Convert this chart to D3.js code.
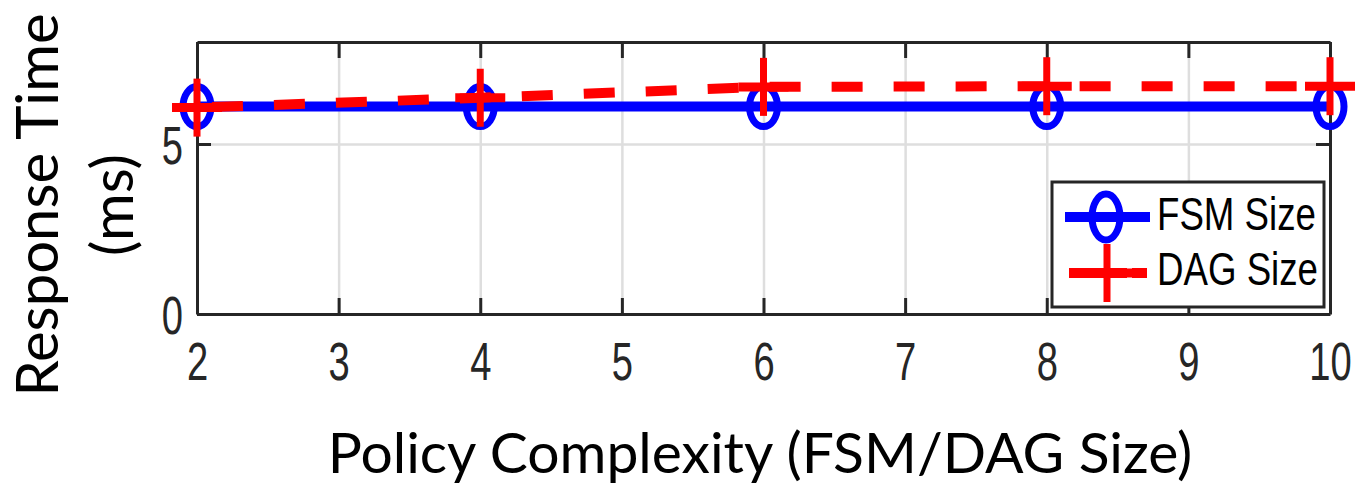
<!DOCTYPE html>
<html>
<head>
  <title>Response Time vs Policy Complexity</title>
  <script src="https://d3js.org/d3.v7.min.js"></script>
</head>
<body style="margin:0; background:#fff;">
  <style>
    #chart {
      display: block;
    }
    .tick-label {
      font-family: "Liberation Sans", Arial, sans-serif;
      fill: #262626;
    }
    .axis-title {
      font-family: Lato, Calibri, "Open Sans", sans-serif;
      fill: #000;
    }
  </style>

  <svg id="chart"></svg>

  <script>
    // data
    var sizes = [2, 4, 6, 8, 10];
    var fsmTime = [6.1, 6.1, 6.1, 6.1, 6.1];
    var dagTime = [6.07, 6.36, 6.68, 6.7, 6.7];
    var xTicks = [2, 3, 4, 5, 6, 7, 8, 9, 10];
    var yTicks = [0, 5];
    var seriesNames = ["FSM Size", "DAG Size"];

    var chartWidth = 1357;
    var chartHeight = 492;
    var margin = { top: 42, right: 27, bottom: 178, left: 197 };
    var innerWidth = chartWidth - margin.left - margin.right;
    var innerHeight = chartHeight - margin.top - margin.bottom;

    // the tick font in the figure is a condensed Helvetica
    var tickSquash = 0.72;
    var legendSquash = 0.78;

    function squash(sel, k) {
      sel.each(function() {
        var w = this.getComputedTextLength();
        d3.select(this)
          .attr("textLength", w * k)
          .attr("lengthAdjust", "spacingAndGlyphs");
      });
    }

    var svg = d3.select("#chart")
      .attr("width", chartWidth)
      .attr("height", chartHeight);

    var chart = svg.append("g")
      .attr("transform", "translate(" + margin.left + "," + margin.top + ")");

    var xScale = d3.scaleLinear().domain([2, 10]).range([0, innerWidth]);
    var yScale = d3.scaleLinear().domain([0, 8]).range([innerHeight, 0]);

    // grid
    chart.append("g")
      .attr("class", "grid")
      .attr("transform", "translate(0," + innerHeight + ")")
      .call(d3.axisBottom(xScale).tickValues(xTicks).tickSize(-innerHeight).tickFormat(""))
      .call(g => g.select(".domain").remove())
      .selectAll("line").attr("stroke", "#dedede").attr("stroke-width", 2.5);

    chart.append("g")
      .attr("class", "grid")
      .call(d3.axisLeft(yScale).tickValues(yTicks).tickSize(-innerWidth).tickFormat(""))
      .call(g => g.select(".domain").remove())
      .selectAll("line").attr("stroke", "#dedede").attr("stroke-width", 2.5);

    // axes (box with inward ticks)
    function styleAxis(g) {
      g.select(".domain").attr("stroke", "#262626").attr("stroke-width", 3);
      g.selectAll(".tick line").attr("stroke", "#262626").attr("stroke-width", 3);
    }

    var xAxis = chart.append("g")
      .attr("transform", "translate(0," + innerHeight + ")")
      .call(d3.axisBottom(xScale).tickValues(xTicks).tickSizeInner(-16).tickSizeOuter(0))
      .call(styleAxis);
    xAxis.selectAll("text")
      .attr("class", "tick-label")
      .attr("y", 66)
      .attr("dy", null)
      .style("font-size", "53px")
      .call(squash, tickSquash);

    chart.append("g")
      .call(d3.axisTop(xScale).tickValues(xTicks).tickSizeInner(-16).tickSizeOuter(0).tickFormat(""))
      .call(styleAxis);

    var yAxis = chart.append("g")
      .call(d3.axisLeft(yScale).tickValues(yTicks).tickSizeInner(-14).tickSizeOuter(0))
      .call(styleAxis);
    yAxis.selectAll("text")
      .attr("class", "tick-label")
      .attr("x", -14)
      .attr("dy", "0.36em")
      .style("font-size", "53px")
      .call(squash, tickSquash);

    chart.append("g")
      .attr("transform", "translate(" + innerWidth + ",0)")
      .call(d3.axisRight(yScale).tickValues(yTicks).tickSizeInner(-14).tickSizeOuter(0).tickFormat(""))
      .call(styleAxis);

    // lines
    var line = d3.line()
      .x((d, i) => xScale(sizes[i]))
      .y(d => yScale(d));

    chart.append("path")
      .datum(fsmTime)
      .attr("fill", "none")
      .attr("stroke", "#0000ff")
      .attr("stroke-width", 10)
      .attr("d", line);

    chart.selectAll(".fsm-marker")
      .data(fsmTime)
      .enter()
      .append("ellipse")
      .attr("class", "fsm-marker")
      .attr("cx", (d, i) => xScale(sizes[i]))
      .attr("cy", d => yScale(d))
      .attr("rx", 14)
      .attr("ry", 20)
      .attr("fill", "none")
      .attr("stroke", "#0000ff")
      .attr("stroke-width", 7);

    chart.append("path")
      .datum(dagTime)
      .attr("fill", "none")
      .attr("stroke", "#ff0000")
      .attr("stroke-width", 10)
      .attr("stroke-dasharray", "31,31")
      .attr("stroke-dashoffset", -15)
      .attr("d", line);

    function plus(g, cx, cy) {
      g.append("line")
        .attr("x1", cx - 25).attr("x2", cx + 25)
        .attr("y1", cy).attr("y2", cy)
        .attr("stroke", "#ff0000").attr("stroke-width", 9);
      g.append("line")
        .attr("x1", cx).attr("x2", cx)
        .attr("y1", cy - 29).attr("y2", cy + 29)
        .attr("stroke", "#ff0000").attr("stroke-width", 7);
    }

    dagTime.forEach(function(d, i) {
      plus(chart, xScale(sizes[i]), yScale(d));
    });

    // legend
    var legend = chart.append("g")
      .attr("transform", "translate(" + (innerWidth - 278) + "," + 140 + ")");

    legend.append("rect")
      .attr("x", 0).attr("y", 0)
      .attr("width", 272).attr("height", 125)
      .attr("fill", "#fff")
      .attr("stroke", "#262626")
      .attr("stroke-width", 3);

    legend.append("line")
      .attr("x1", 13).attr("x2", 98).attr("y1", 35).attr("y2", 35)
      .attr("stroke", "#0000ff").attr("stroke-width", 10);
    legend.append("ellipse")
      .attr("cx", 54).attr("cy", 35).attr("rx", 14).attr("ry", 23)
      .attr("fill", "none").attr("stroke", "#0000ff").attr("stroke-width", 7);

    legend.append("line")
      .attr("x1", 17).attr("x2", 95).attr("y1", 91).attr("y2", 91)
      .attr("stroke", "#ff0000").attr("stroke-width", 10)
      .attr("stroke-dasharray", "58,5,15");
    plus(legend, 55, 91);

    legend.selectAll(".legend-label")
      .data(seriesNames)
      .enter()
      .append("text")
      .attr("class", "tick-label")
      .attr("x", 105)
      .attr("y", (d, i) => 48 + i * 55)
      .style("font-size", "47px")
      .style("fill", "#000")
      .text(d => d)
      .call(squash, legendSquash);

    // axis titles
    svg.append("text")
      .attr("class", "axis-title")
      .attr("x", 760)
      .attr("y", 473)
      .attr("text-anchor", "middle")
      .style("font-size", "57px")
      .text("Policy Complexity (FSM/DAG Size)");

    var yTitle = svg.append("text")
      .attr("class", "axis-title")
      .attr("transform", "translate(58,205) rotate(-90)")
      .attr("text-anchor", "middle")
      .style("font-size", "58px");
    yTitle.append("tspan").attr("x", 0).attr("dy", 0).text("Response Time");
    yTitle.append("tspan").attr("x", 0).attr("dy", 75).text("(ms)");
  </script>
</body>
</html>
